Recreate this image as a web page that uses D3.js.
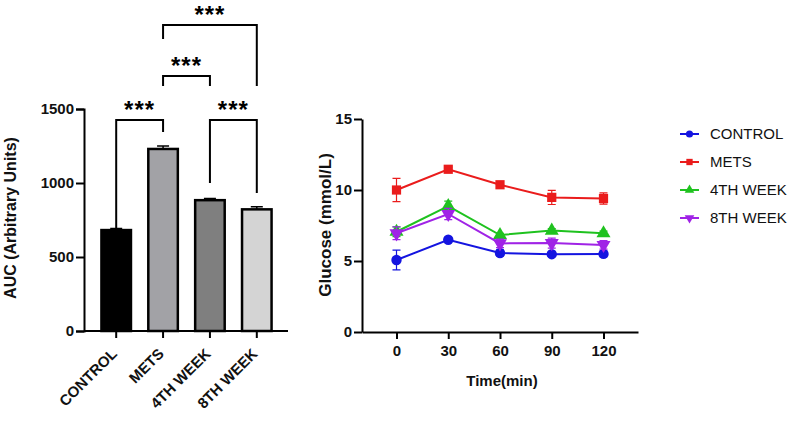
<!DOCTYPE html>
<html>
  <head>
    <title>AUC and glucose</title>
    <script src="https://d3js.org/d3.v7.min.js"></script>
    <style>
      body { margin: 0; background: #fff; }
      text { font-family: "Liberation Sans", Arial, sans-serif; }
    </style>
  </head>
  <body>
    <div id="vis"></div>
    <script>
      // bar chart data
      var groups = ["CONTROL", "METS", "4TH WEEK", "8TH WEEK"];
      var aucMean = [682, 1230, 884, 822];
      var aucErr = [10, 20, 12, 18];
      var barFill = ["#000000", "#a2a2a6", "#7f7f7f", "#d4d4d4"];
      var yTicksAuc = [0, 500, 1000, 1500];

      // significance pairs
      var sigPairs = [["CONTROL", "METS"], ["4TH WEEK", "8TH WEEK"], ["METS", "4TH WEEK"], ["METS", "8TH WEEK"]];
      var sigText = ["***", "***", "***", "***"];

      // line chart data
      var times = [0, 30, 60, 90, 120];
      var seriesNames = ["CONTROL", "METS", "4TH WEEK", "8TH WEEK"];
      var controlVals = [5.07, 6.5, 5.56, 5.48, 5.5];
      var controlErr = [0.7, 0.15, 0.2, 0.15, 0.2];
      var metsVals = [10.0, 11.46, 10.37, 9.48, 9.4];
      var metsErr = [0.82, 0.15, 0.15, 0.5, 0.4];
      var week4Vals = [7.06, 8.87, 6.83, 7.14, 6.95];
      var week4Err = [0.35, 0.35, 0.12, 0.15, 0.15];
      var week8Vals = [6.95, 8.31, 6.24, 6.26, 6.13];
      var week8Err = [0.45, 0.4, 0.3, 0.35, 0.3];
      var seriesColor = ["#1414e0", "#ea1c1c", "#1fc21f", "#a023e6"];
      var seriesShape = [d3.symbolCircle, d3.symbolSquare, d3.symbolTriangle, d3.symbolTriangle];
      var yTicksGlu = [0, 5, 10, 15];

      var svg = d3.select("#vis").append("svg")
        .attr("width", 794).attr("height", 424);

      function styleAxis(a) {
        a.selectAll("path, line").attr("stroke", "#000").attr("stroke-width", 2);
        a.selectAll("text").attr("fill", "#111").style("font-size", "15px").style("font-weight", "bold")
          .style("font-family", "'Liberation Sans', Arial, sans-serif");
      }

      // ---------- left: bar chart ----------
      var x = d3.scaleBand().domain(groups).range([93, 280]).paddingInner(0.37).paddingOuter(0.18);
      var y = d3.scaleLinear().domain([0, 1500]).range([331, 109]);

      var gl = svg.append("g");
      var bw = x.bandwidth();

      gl.selectAll("rect.bar").data(groups).enter().append("rect")
        .attr("x", function(d) { return x(d); })
        .attr("y", function(d, i) { return y(aucMean[i]); })
        .attr("width", bw)
        .attr("height", function(d, i) { return y(0) - y(aucMean[i]); })
        .attr("fill", function(d, i) { return barFill[i]; })
        .attr("stroke", "#000").attr("stroke-width", 2.5);

      // error bars (upper only)
      groups.forEach(function(g, i) {
        var cx = x(g) + bw / 2, top = y(aucMean[i] + aucErr[i]);
        gl.append("path")
          .attr("d", "M" + cx + "," + y(aucMean[i]) + "V" + top + "M" + (cx - 6) + "," + top + "H" + (cx + 6))
          .attr("stroke", "#000").attr("stroke-width", 1.5).attr("fill", "none");
      });

      var axL = gl.append("g").attr("transform", "translate(84,0)")
        .call(d3.axisLeft(y).tickValues(yTicksAuc).tickFormat(d3.format("d")).tickSize(8).tickPadding(2));
      var axB = gl.append("g").attr("transform", "translate(0,331)")
        .call(d3.axisBottom(x).tickSize(7).tickSizeOuter(0));
      axB.select(".domain").attr("d", "M84,0H288");
      styleAxis(axL);
      styleAxis(axB);
      axB.selectAll("text")
        .attr("text-anchor", "end")
        .attr("dy", "0.35em").attr("y", 0)
        .attr("transform", "translate(-2,20) rotate(-45)");

      gl.append("text")
        .attr("transform", "translate(16,218) rotate(-90)")
        .attr("text-anchor", "middle")
        .style("font-size", "16px").style("font-weight", "bold").attr("fill", "#111")
        .text("AUC (Arbitrary Units)");

      // brackets
      var brLevel = [120, 120, 76, 25];
      var legA = [260, 183, 86, 39];
      var legB = [132, 193, 86, 86];
      sigPairs.forEach(function(p, i) {
        var x1 = x(p[0]) + bw / 2, x2 = x(p[1]) + bw / 2;
        gl.append("path")
          .attr("d", "M" + x1 + "," + legA[i] + "V" + brLevel[i] + "H" + x2 + "V" + legB[i])
          .attr("fill", "none").attr("stroke", "#000").attr("stroke-width", 2);
        gl.append("text").attr("x", (x1 + x2) / 2).attr("y", brLevel[i] - 2)
          .attr("text-anchor", "middle")
          .style("font-size", "24px").style("font-weight", "bold").style("letter-spacing", "1px")
          .attr("fill", "#000")
          .text(sigText[i]);
      });

      // ---------- right: line chart ----------
      var xt = d3.scaleLinear().domain([-20, 140]).range([362, 638]);
      var yg = d3.scaleLinear().domain([0, 15]).range([332, 119]);
      var gr = svg.append("g");

      var axL2 = gr.append("g").attr("transform", "translate(362,0)")
        .call(d3.axisLeft(yg).tickValues(yTicksGlu).tickSize(8).tickPadding(2).tickSizeOuter(0));
      var axB2 = gr.append("g").attr("transform", "translate(0,332)")
        .call(d3.axisBottom(xt).tickValues(times).tickSize(7).tickPadding(6).tickSizeOuter(0));
      styleAxis(axL2);
      styleAxis(axB2);

      gr.append("text").attr("x", 502).attr("y", 386).attr("text-anchor", "middle")
        .style("font-size", "15px").style("font-weight", "bold").attr("fill", "#111")
        .text("Time(min)");
      gr.append("text")
        .attr("transform", "translate(331,225) rotate(-90)")
        .attr("text-anchor", "middle")
        .style("font-size", "17px").style("font-weight", "bold").attr("fill", "#111")
        .text("Glucose (mmol/L)");

      var allVals = [controlVals, metsVals, week4Vals, week8Vals];
      var allErr = [controlErr, metsErr, week4Err, week8Err];
      var line = d3.line().x(function(d) { return xt(d[0]); }).y(function(d) { return yg(d[1]); });

      function marker(sel, i, size) {
        sel.attr("d", d3.symbol().type(seriesShape[i]).size(size))
          .attr("fill", seriesColor[i]);
      }

      seriesNames.forEach(function(name, i) {
        var pts = times.map(function(t, j) { return [t, allVals[i][j], allErr[i][j]]; });
        var g = gr.append("g");
        g.append("path").datum(pts).attr("d", line)
          .attr("fill", "none").attr("stroke", seriesColor[i]).attr("stroke-width", 2);
        pts.forEach(function(p) {
          var cx = xt(p[0]), lo = yg(p[1] - p[2]), hi = yg(p[1] + p[2]);
          g.append("path")
            .attr("d", "M" + cx + "," + lo + "V" + hi + "M" + (cx - 4) + "," + lo + "H" + (cx + 4) + "M" + (cx - 4) + "," + hi + "H" + (cx + 4))
            .attr("stroke", seriesColor[i]).attr("stroke-width", 1.2).attr("fill", "none");
        });
        g.selectAll("path.pt").data(pts).enter().append("path").attr("class", "pt")
          .attr("transform", function(d) {
            return "translate(" + xt(d[0]) + "," + yg(d[1]) + ")" + (i === 3 ? " rotate(180)" : "");
          })
          .call(marker, i, 85);
      });

      // legend
      var lg = svg.append("g");
      seriesNames.forEach(function(name, i) {
        var ly = 134 + i * 28;
        lg.append("line").attr("x1", 680).attr("x2", 699).attr("y1", ly).attr("y2", ly)
          .attr("stroke", seriesColor[i]).attr("stroke-width", 2);
        lg.append("path").attr("transform", "translate(689.5," + ly + ")" + (i === 3 ? " rotate(180)" : ""))
          .call(marker, i, 40);
        lg.append("text").attr("x", 710).attr("y", ly).attr("dy", "0.36em")
          .style("font-size", "15px").attr("fill", "#111").text(name);
      });
    </script>
  </body>
</html>
